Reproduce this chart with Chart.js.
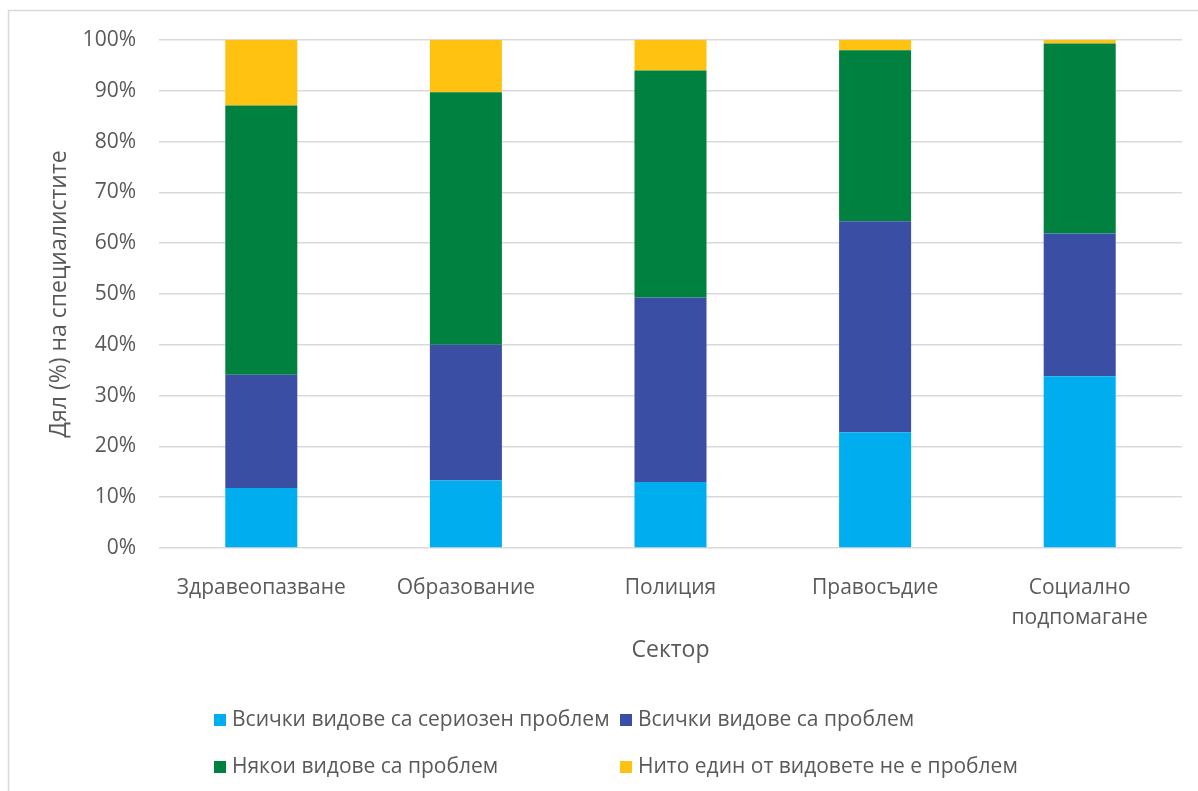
<!DOCTYPE html>
<html>
<head>
<meta charset="utf-8">
<script src="https://cdn.jsdelivr.net/npm/chart.js@4.4.1/dist/chart.umd.min.js"></script>
<style>
  html, body { margin: 0; padding: 0; background: #ffffff; }
  #wrap { width: 1198px; height: 791px; }
</style>
</head>
<body>
<div id="wrap"><canvas id="c" width="1198" height="791"></canvas></div>
<script>
// Sectors on the x axis (a sub-array breaks a label over two lines)
const sectors = ['Здравеопазване', 'Образование', 'Полиция', 'Правосъдие', ['Социално', 'подпомагане']];

// Share of specialists (%) per answer, stacked to 100%
const allSerious = [11.8, 13.3, 13.0, 22.8, 33.8];
const allProblem = [22.3, 26.7, 36.3, 41.5, 28.1];
const someProblem = [53.0, 49.7, 44.7, 33.7, 37.4];
const noneProblem = [12.9, 10.3, 6.0, 2.0, 0.7];

const seriesNames = [
  'Всички видове са сериозен проблем',
  'Всички видове са проблем',
  'Някои видове са проблем',
  'Нито един от видовете не е проблем'
];
const seriesColors = ['#00AEEF', '#3A4FA4', '#00813F', '#FFC211'];

const yTicks = [0, 10, 20, 30, 40, 50, 60, 70, 80, 90, 100];

const FONT = '"Open Sans", "DejaVu Sans", sans-serif';
const TEXT = '#595959';

// Outer frame of the chart
const framePlugin = {
  id: 'frame',
  beforeDraw(chart) {
    const ctx = chart.ctx;
    ctx.save();
    ctx.fillStyle = '#ffffff';
    ctx.fillRect(0, 0, chart.width, chart.height);
    ctx.strokeStyle = '#D9D9D9';
    ctx.lineWidth = 1.5;
    ctx.strokeRect(8.5, 10.5, chart.width + 50, chart.height + 50);
    ctx.restore();
  }
};

// Legend laid out as a two-column grid below the axis title
const gridLegend = {
  id: 'gridLegend',
  afterDraw(chart) {
    const ctx = chart.ctx;
    const cols = [214, 620];
    const rows = [720, 767];
    const box = 12;
    ctx.save();
    ctx.font = '21px ' + FONT;
    ctx.textBaseline = 'middle';
    ctx.textAlign = 'left';
    chart.data.datasets.forEach((ds, i) => {
      const x = cols[i % 2];
      const y = rows[Math.floor(i / 2)];
      ctx.fillStyle = ds.backgroundColor;
      ctx.fillRect(x, y - box / 2, box, box);
      ctx.fillStyle = TEXT;
      ctx.fillText(ds.label, x + box + 6, y);
    });
    ctx.restore();
  }
};

const seriesData = [allSerious, allProblem, someProblem, noneProblem];

new Chart(document.getElementById('c'), {
  type: 'bar',
  data: {
    labels: sectors,
    datasets: seriesData.map((d, i) => ({
      label: seriesNames[i],
      data: d,
      backgroundColor: seriesColors[i],
      borderWidth: 0,
      barPercentage: 1,
      categoryPercentage: 0.352
    }))
  },
  options: {
    responsive: false,
    animation: false,
    layout: { padding: { top: 40, right: 16, bottom: 111, left: 0 } },
    plugins: {
      legend: { display: false },
      tooltip: { enabled: false }
    },
    scales: {
      x: {
        stacked: true,
        grid: { display: false },
        border: { display: false },
        ticks: {
          color: TEXT,
          padding: 17,
          font: { family: FONT, size: 21, lineHeight: 1.43 },
          maxRotation: 0,
          autoSkip: false
        },
        title: {
          display: true,
          text: 'Сектор',
          color: TEXT,
          font: { family: FONT, size: 23, lineHeight: 1.2 },
          padding: { top: 0, bottom: 16 }
        },
        afterFit(scale) { scale.height = 132; }
      },
      y: {
        stacked: true,
        min: 0,
        max: 100,
        afterBuildTicks(scale) { scale.ticks = yTicks.map(v => ({ value: v })); },
        grid: { color: '#D9D9D9', lineWidth: 1.5, drawTicks: false },
        border: { display: false },
        ticks: {
          color: TEXT,
          padding: 23,
          font: { family: FONT, size: 21 },
          callback: v => v + '%'
        },
        title: {
          display: true,
          text: 'Дял (%) на специалистите',
          color: TEXT,
          font: { family: FONT, size: 23, lineHeight: 1.2 },
          padding: { top: 46, bottom: 0 }
        },
        afterFit(scale) { scale.width = 159; }
      }
    }
  },
  plugins: [framePlugin, gridLegend]
});
</script>
</body>
</html>
